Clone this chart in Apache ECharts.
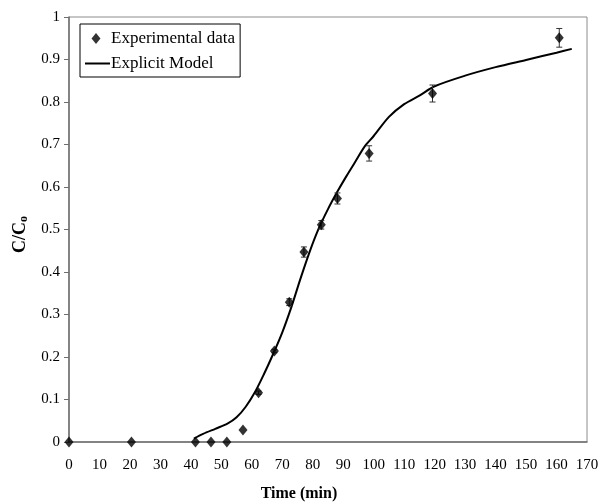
<!DOCTYPE html>
<html>
<head>
<meta charset="utf-8">
<script src="https://cdn.jsdelivr.net/npm/echarts@6/dist/echarts.min.js"></script>
<style>html,body{margin:0;padding:0;background:#fff}#c{width:602px;height:502px}</style>
</head>
<body>
<div id="c"></div>
<script>
// Experimental data
const expTime = [0, 20.5, 41.5, 46.6, 51.8, 57.1, 62.2, 67.4, 72.3, 77.1, 82.8, 88.1, 98.5, 119.3, 160.9];
const expC = [0, 0, 0, 0, 0, 0.028, 0.116, 0.214, 0.329, 0.447, 0.511, 0.573, 0.679, 0.820, 0.951];
// Error bars (half widths), per experimental point
const expErr = [0, 0, 0, 0, 0, 0, 0.004, 0.004, 0.008, 0.012, 0.010, 0.013, 0.018, 0.020, 0.022];
// Explicit model curve
const modelTime = [41, 44, 48, 52, 55, 58, 61, 64, 67, 70, 73, 76, 79, 82, 85, 88, 91, 94, 97, 100, 105, 110, 115, 120, 130, 140, 150, 160, 165];
const modelC = [0.008, 0.019, 0.031, 0.043, 0.058, 0.083, 0.117, 0.160, 0.207, 0.258, 0.318, 0.385, 0.448, 0.503, 0.548, 0.588, 0.625, 0.660, 0.695, 0.720, 0.765, 0.795, 0.815, 0.837, 0.862, 0.882, 0.899, 0.916, 0.925];
// Axis ticks
const xTicks = {min: 0, max: 170, interval: 10};
const yTicks = {min: 0, max: 1, interval: 0.1};

const FONT = '"Liberation Serif", "Times New Roman", serif';
const chart = echarts.init(document.getElementById('c'), null, {renderer: 'canvas'});

const expData = expTime.map((t, i) => [t, expC[i]]);
const modelData = modelTime.map((t, i) => [t, modelC[i]]);
const errData = expTime.map((t, i) => [t, expC[i], expErr[i]]).filter(d => d[2] > 0);

chart.setOption({
  animation: false,
  backgroundColor: '#fff',
  grid: {left: 69, right: 15, top: 17, bottom: 60, show: true, borderColor: '#8c8c8c', borderWidth: 1, containLabel: false, outerBoundsMode: 'none'},
  legend: {
    orient: 'vertical', left: 80, top: 24,
    padding: [6, 5, 5, 4],
    borderColor: '#000', borderWidth: 1,
    itemWidth: 25, itemHeight: 11, itemGap: 8,
    symbolKeepAspect: true,
    textStyle: {fontFamily: FONT, fontSize: 17, color: '#000', padding: [0, 0, 0, -4]},
    data: [
      {name: 'Experimental data', icon: 'path://M0,0 M25,11 M11,0 L15.5,5.5 L11,11 L6.5,5.5 Z'},
      {name: 'Explicit Model', itemStyle: {opacity: 0}, lineStyle: {color: '#000', width: 2}}
    ]
  },
  xAxis: {
    type: 'value', min: xTicks.min, max: xTicks.max, interval: xTicks.interval,
    name: 'Time (min)', nameLocation: 'middle', nameGap: 44,
    nameTextStyle: {fontFamily: FONT, fontSize: 16, fontWeight: 'bold', color: '#000', padding: [0, 58, 0, 0]},
    axisLine: {show: true, lineStyle: {color: '#6e6e6e', width: 1.5}},
    axisTick: {show: false},
    axisLabel: {fontFamily: FONT, fontSize: 15, color: '#000', margin: 16},
    splitLine: {show: false}
  },
  yAxis: {
    type: 'value', min: yTicks.min, max: yTicks.max, interval: yTicks.interval,
    name: '{a|C/C}{b|o}', nameLocation: 'middle', nameGap: 29, nameRotate: 90,
    nameTextStyle: {
      padding: [0, 10, 0, 0],
      rich: {
        a: {fontFamily: FONT, fontSize: 18, fontWeight: 'bold', color: '#000'},
        b: {fontFamily: FONT, fontSize: 12, fontWeight: 'bold', color: '#000', verticalAlign: 'bottom', padding: [8, 0, 0, 0]}
      }
    },
    axisLine: {show: true, lineStyle: {color: '#6e6e6e', width: 1.5}},
    axisTick: {show: true, inside: false, length: 5, lineStyle: {color: '#6e6e6e'}},
    axisLabel: {fontFamily: FONT, fontSize: 15, color: '#000', margin: 9},
    splitLine: {show: false}
  },
  series: [
    {
      name: 'Explicit Model', type: 'line', data: modelData,
      symbol: 'none', showSymbol: false, smooth: 0.3,
      lineStyle: {color: '#000', width: 2},
      itemStyle: {color: '#000'}, z: 3
    },
    {
      name: 'errorbars', type: 'custom', data: errData,
      renderItem: function (params, api) {
        const x = api.value(0), y = api.value(1), e = api.value(2);
        const top = api.coord([x, y + e]);
        const bot = api.coord([x, y - e]);
        const hw = 3;
        const st = {stroke: '#333', lineWidth: 1};
        return {
          type: 'group',
          children: [
            {type: 'line', shape: {x1: top[0], y1: top[1], x2: bot[0], y2: bot[1]}, style: st},
            {type: 'line', shape: {x1: top[0] - hw, y1: top[1], x2: top[0] + hw, y2: top[1]}, style: st},
            {type: 'line', shape: {x1: bot[0] - hw, y1: bot[1], x2: bot[0] + hw, y2: bot[1]}, style: st}
          ]
        };
      },
      z: 4, silent: true
    },
    {
      name: 'Experimental data', type: 'scatter', data: expData,
      symbol: 'diamond', symbolSize: [9, 11], symbolKeepAspect: true,
      itemStyle: {color: '#000'}, z: 5
    }
  ]
});
</script>
</body>
</html>
